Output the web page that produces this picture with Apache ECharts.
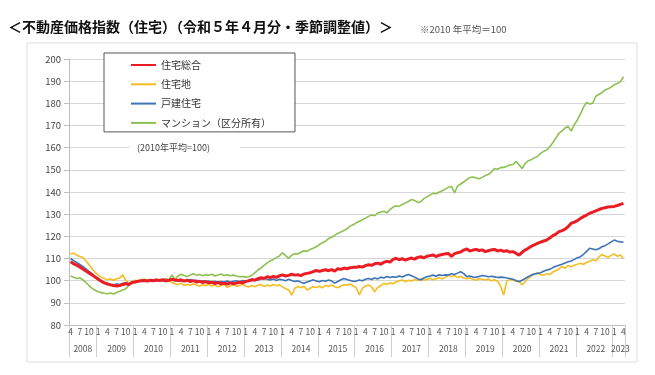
<!DOCTYPE html>
<html lang="ja" style="height: 100%">
<head>
<meta charset="utf-8">
<title>不動産価格指数（住宅）</title>
</head>
<body style="height: 100%; margin: 0; background: #fff">
<div id="container" style="width: 655px; height: 375px"></div>

<script type="text/javascript" src="https://cdn.jsdelivr.net/npm/echarts@6/dist/echarts.min.js"></script>

<script type="text/javascript">

var dom = document.getElementById('container');
var myChart = echarts.init(dom);

// monthly, 2008-04 .. 2023-04
var years = ['2008', '2009', '2010', '2011', '2012', '2013', '2014', '2015',
             '2016', '2017', '2018', '2019', '2020', '2021', '2022', '2023'];
var monthLabels = [1, 4, 7, 10];
var seriesNames = ['住宅総合', '住宅地', '戸建住宅', 'マンション（区分所有）'];

var sogo = [
    108.5, 107.6, 107.0, 106.2, 105.3, 104.4, 103.5, 102.6, 101.6,
    100.6, 99.7, 99.0, 98.5, 98.1, 97.8, 97.6, 97.8, 98.3, 98.6, 98.2, 99.2,
    99.4, 99.7, 99.9, 100.1, 99.8, 100.2, 100.0, 100.3, 100.1, 100.4, 99.9, 100.2,
    100.6, 100.3, 100.1, 100.4, 99.8, 100.2, 99.6, 100.0, 99.4, 99.7, 99.2, 99.6,
    99.0, 99.3, 98.7, 99.2, 98.6, 98.9, 98.4, 99.0, 98.6, 98.9, 99.3, 99.0,
    99.6, 99.9, 100.5, 100.2, 100.9, 101.3, 101.0, 101.8, 101.4, 101.9, 101.5, 102.2,
    102.6, 102.1, 102.4, 102.9, 102.5, 102.7, 102.3, 103.0, 103.3, 103.6, 104.1, 104.6,
    104.2, 104.6, 104.9, 104.5, 105.0, 104.3, 105.4, 105.1, 105.7, 105.4, 105.8, 106.0,
    106.0, 106.4, 106.1, 106.8, 107.2, 106.9, 107.6, 107.9, 107.4, 108.3, 108.7, 108.4,
    109.6, 110.1, 109.5, 109.9, 109.3, 109.8, 110.2, 109.7, 110.5, 110.8, 110.3, 111.0,
    111.3, 111.6, 110.9, 111.5, 111.8, 112.1, 112.3, 111.0, 112.2, 112.6, 112.9, 113.8,
    114.3, 113.4, 113.8, 114.1, 113.6, 113.9, 113.1, 113.5, 113.9, 114.1, 113.4, 113.8,
    113.2, 113.5, 112.9, 113.1, 112.4, 111.5, 112.8, 113.8, 114.6, 115.5, 116.2, 116.8,
    117.4, 117.9, 118.3, 119.2, 120.3, 121.0, 122.1, 122.6, 123.2, 124.4, 125.9, 126.4,
    127.1, 128.1, 128.9, 129.6, 130.4, 130.9, 131.5, 132.1, 132.6, 132.9, 133.2, 133.4,
    133.5, 133.9, 134.4, 134.9
];

var takuchi = [
    112.1, 112.4, 111.6, 110.9, 110.6, 109.0, 107.3, 105.4, 103.8,
    102.5, 101.6, 101.0, 100.4, 100.8, 100.2, 100.9, 101.2, 102.6, 100.1, 98.9, 99.6,
    100.2, 99.7, 100.3, 100.8, 99.9, 100.4, 100.0, 100.6, 99.8, 100.3, 99.6, 99.9,
    99.3, 98.6, 98.2, 98.9, 97.8, 98.4, 97.9, 98.6, 98.1, 97.5, 98.3, 97.7,
    98.4, 97.6, 98.1, 97.2, 97.8, 98.3, 97.0, 97.6, 98.2, 97.4, 97.9, 98.3,
    97.6, 97.1, 97.8, 97.3, 97.9, 98.2, 97.4, 98.0, 97.6, 98.3, 97.7, 98.1,
    97.2, 96.4, 95.9, 93.5, 96.6, 97.4, 96.8, 97.5, 95.8, 96.6, 97.3, 96.9,
    97.5, 96.8, 97.9, 97.4, 98.1, 97.3, 96.8, 97.6, 98.2, 97.9, 98.5, 97.7,
    96.8, 93.6, 96.5, 97.6, 98.1, 97.2, 95.0, 96.9, 97.8, 98.8, 98.3, 99.0,
    98.6, 99.4, 100.0, 100.3, 99.6, 100.2, 99.8, 100.5, 100.1, 100.8, 100.2, 100.6,
    101.1, 100.4, 100.9, 101.3, 100.7, 101.5, 102.5, 101.8, 102.3, 101.4, 102.0, 101.2,
    100.9, 101.3, 100.5, 100.2, 100.9, 100.6, 100.3, 100.8, 99.9, 100.4, 99.7, 97.6,
    93.5, 99.8, 100.6, 100.2, 99.7, 99.9, 98.0, 99.6, 101.0, 102.2, 103.1, 103.4,
    102.8, 102.4, 103.2, 102.7, 103.9, 104.6, 105.3, 106.4, 105.6, 106.9, 106.2, 107.0,
    107.4, 107.9, 107.3, 108.3, 108.8, 109.4, 109.0, 110.7, 111.8, 111.1, 110.5, 111.4,
    112.1, 111.0, 111.6, 110.0
];

var kodate = [
    110.0, 109.0, 108.2, 107.3, 106.4, 105.3, 104.2, 103.2, 102.0,
    101.0, 100.0, 99.2, 98.8, 98.4, 98.1, 98.5, 98.3, 98.8, 99.1, 98.6, 99.3,
    99.6, 99.9, 100.2, 99.8, 100.3, 100.0, 100.4, 99.9, 100.2, 100.0, 99.7, 100.1,
    100.4, 100.0, 100.3, 99.7, 100.1, 99.8, 100.5, 99.9, 100.2, 99.6, 100.0, 99.5,
    99.8, 99.3, 99.7, 99.2, 99.6, 99.4, 99.9, 99.3, 99.7, 100.0, 99.5, 100.1,
    99.7, 100.2, 99.9, 100.5, 100.2, 100.7, 101.2, 100.6, 100.3, 100.8, 100.1, 100.6,
    100.4, 100.0, 100.6, 100.1, 99.6, 99.9, 99.3, 98.8, 99.4, 99.9, 100.4, 99.8,
    99.5, 100.1, 99.7, 100.3, 99.8, 98.9, 99.6, 100.4, 101.0, 100.5, 100.1, 99.7,
    99.8, 100.3, 100.0, 100.6, 101.0, 100.5, 101.2, 100.8, 101.6, 101.2, 101.9, 101.4,
    101.8, 101.5, 102.1, 101.7, 102.3, 102.8, 102.2, 101.6, 100.9, 100.3, 101.2, 101.8,
    102.1, 102.5, 102.0, 102.7, 102.3, 102.6, 102.5, 103.1, 102.8, 103.4, 104.0, 103.2,
    101.8, 102.1, 101.6, 101.5, 101.9, 102.3, 102.1, 101.8, 102.0, 101.7, 101.4, 101.6,
    101.5, 101.2, 101.0, 100.6, 100.1, 99.5, 100.2, 101.0, 101.8, 102.5, 103.0, 103.3,
    103.6, 104.2, 104.8, 105.1, 105.9, 106.5, 107.0, 107.4, 108.0, 108.5, 108.9, 109.6,
    110.3, 110.8, 111.9, 113.2, 114.6, 114.3, 113.9, 114.4, 115.3, 115.8, 116.6, 117.5,
    118.3, 117.8, 117.5, 117.3
];

var mansion = [
    102.1, 101.5, 101.0, 101.2, 100.4, 99.2, 97.8, 96.5, 95.7,
    95.0, 94.6, 94.3, 94.1, 94.4, 94.0, 94.7, 95.2, 95.8, 96.4, 97.8, 99.4,
    99.2, 99.8, 100.3, 99.7, 100.1, 99.9, 100.4, 100.6, 99.8, 100.2, 101.0, 100.3,
    102.6, 100.4, 102.1, 102.9, 102.3, 101.8, 102.6, 103.1, 102.4, 102.8, 102.2, 102.7,
    102.4, 102.9, 102.1, 102.6, 103.0, 102.3, 102.7, 102.2, 102.5, 102.1, 101.8, 101.9,
    101.6, 101.8, 102.4, 103.5, 104.8, 105.7, 106.9, 108.0, 108.9, 109.6, 110.4, 111.2,
    112.6, 111.3, 110.1, 111.5, 112.2, 112.0, 112.8, 113.5, 113.2, 114.1, 114.6, 115.3,
    116.3, 117.1, 117.8, 119.0, 119.6, 120.4, 121.3, 122.0, 122.6, 123.4, 124.6, 125.2,
    126.1, 126.8, 127.4, 128.2, 129.0, 129.6, 129.3, 130.5, 131.0, 131.3, 130.6, 132.1,
    133.2, 133.8, 133.5, 134.4, 135.0, 135.7, 136.6, 136.2, 135.3, 135.6, 137.0, 137.8,
    138.6, 139.4, 139.2, 139.9, 140.6, 141.3, 142.1, 142.5, 139.6, 142.7, 143.6, 144.5,
    145.6, 146.5, 146.8, 146.3, 146.0, 146.6, 147.4, 147.9, 149.0, 150.6, 150.3, 151.0,
    151.1, 151.6, 152.2, 152.4, 153.7, 152.3, 150.6, 152.8, 154.1, 154.6, 155.4, 156.0,
    157.4, 158.3, 159.0, 160.4, 162.2, 164.3, 166.5, 167.6, 168.9, 169.5, 167.5, 170.4,
    172.5, 175.2, 178.3, 180.4, 179.7, 180.1, 183.2, 184.0, 184.9, 186.0, 186.6, 187.3,
    188.4, 188.9, 189.8, 192.0
];

// category list "YYYY-M", first year starts in April, last year ends in April
var categories = [];
years.forEach(function (y, k) {
    var first = k === 0 ? 4 : 1;
    var last = k === years.length - 1 ? 4 : 12;
    for (var m = first; m <= last; m++) {
        categories.push(y + '-' + m);
    }
});

function monthOf(v) { return +v.split('-')[1]; }
function yearOf(v) { return v.split('-')[0]; }

var font = '"Noto Sans CJK JP", sans-serif';
var colors = ['#ec1c24', '#f5bd22', '#3d72b6', '#8cc152'];

option = {
    animation: false,
    color: colors,
    textStyle: { fontFamily: font },
    grid: {
        left: 69,
        right: 30,
        top: 59,
        bottom: 50,
        outerBoundsMode: 'none'
    },
    legend: {
        orient: 'vertical',
        left: 104,
        top: 53,
        padding: [7, 24, 4, 26],
        itemWidth: 25,
        itemHeight: 10,
        itemGap: 9.3,
        backgroundColor: '#fff',
        borderColor: '#555',
        borderWidth: 1,
        z: 10,
        itemStyle: { opacity: 0 },
        textStyle: { fontSize: 10, color: '#333', fontFamily: font },
        data: seriesNames
    },
    xAxis: [
        {
            type: 'category',
            data: categories,
            boundaryGap: true,
            axisLine: { show: true, lineStyle: { color: '#bdbdbd' } },
            axisTick: {
                show: true,
                length: 32,
                lineStyle: { color: '#cfcfcf' },
                interval: function (i, v) { return i === 0 || monthOf(v) === 1; }
            },
            axisLabel: {
                interval: function (i, v) { return monthLabels.indexOf(monthOf(v)) >= 0; },
                formatter: function (v) { return String(monthOf(v)); },
                fontSize: 8.5,
                color: '#555',
                margin: 3
            },
            splitLine: { show: false }
        },
        {
            type: 'category',
            data: categories,
            position: 'bottom',
            offset: 17,
            boundaryGap: true,
            axisLine: { show: false },
            axisTick: { show: false },
            axisLabel: {
                interval: function (i, v) {
                    var m = monthOf(v), y = yearOf(v);
                    if (y === years[0]) return m === 8;
                    if (y === years[years.length - 1]) return m === 3;
                    return m === 7;
                },
                formatter: function (v) { return yearOf(v); },
                fontSize: 8.5,
                color: '#555',
                margin: 3
            },
            splitLine: { show: false }
        }
    ],
    yAxis: {
        type: 'value',
        min: 80,
        max: 200,
        interval: 10,
        axisLine: { show: true, lineStyle: { color: '#bdbdbd' } },
        axisTick: { show: true, length: 5, lineStyle: { color: '#bdbdbd' } },
        axisLabel: { fontSize: 9.5, color: '#444', margin: 8 },
        splitLine: { lineStyle: { color: '#d6d6d6', width: 1 } }
    },
    graphic: [
        {
            type: 'rect',
            shape: { x: 27, y: 43, width: 610, height: 319 },
            style: { fill: 'none', stroke: '#dedede', lineWidth: 1 },
            z: -10,
            silent: true
        },
        {
            type: 'text',
            x: 8,
            y: 27,
            style: {
                text: '＜不動産価格指数（住宅）（令和５年４月分・季節調整値）＞',
                font: 'bold 14px ' + font,
                fill: '#111',
                verticalAlign: 'middle'
            }
        },
        {
            type: 'text',
            x: 420,
            y: 29,
            style: {
                text: '※2010 年平均＝100',
                font: '9.5px ' + font,
                fill: '#555',
                verticalAlign: 'middle'
            }
        },
        {
            type: 'text',
            x: 130,
            y: 148,
            z: 5,
            style: {
                text: '(2010年平均=100)',
                font: '9px ' + font,
                fill: '#444',
                backgroundColor: '#fff',
                padding: [3, 30, 3, 7],
                verticalAlign: 'middle'
            }
        }
    ],
    series: [
        {
            name: seriesNames[0],
            type: 'line',
            data: sogo,
            symbol: 'none',
            z: 6,
            lineStyle: { width: 3, color: colors[0] },
            itemStyle: { color: colors[0] }
        },
        {
            name: seriesNames[1],
            type: 'line',
            data: takuchi,
            symbol: 'none',
            z: 3,
            lineStyle: { width: 1.6, color: colors[1] },
            itemStyle: { color: colors[1] }
        },
        {
            name: seriesNames[2],
            type: 'line',
            data: kodate,
            symbol: 'none',
            z: 4,
            lineStyle: { width: 1.6, color: colors[2] },
            itemStyle: { color: colors[2] }
        },
        {
            name: seriesNames[3],
            type: 'line',
            data: mansion,
            symbol: 'none',
            z: 2,
            lineStyle: { width: 1.6, color: colors[3] },
            itemStyle: { color: colors[3] }
        }
    ]
};

if (option && typeof option === 'object') {
    myChart.setOption(option);
}

window.addEventListener('resize', myChart.resize);
</script>
</body>
</html>
